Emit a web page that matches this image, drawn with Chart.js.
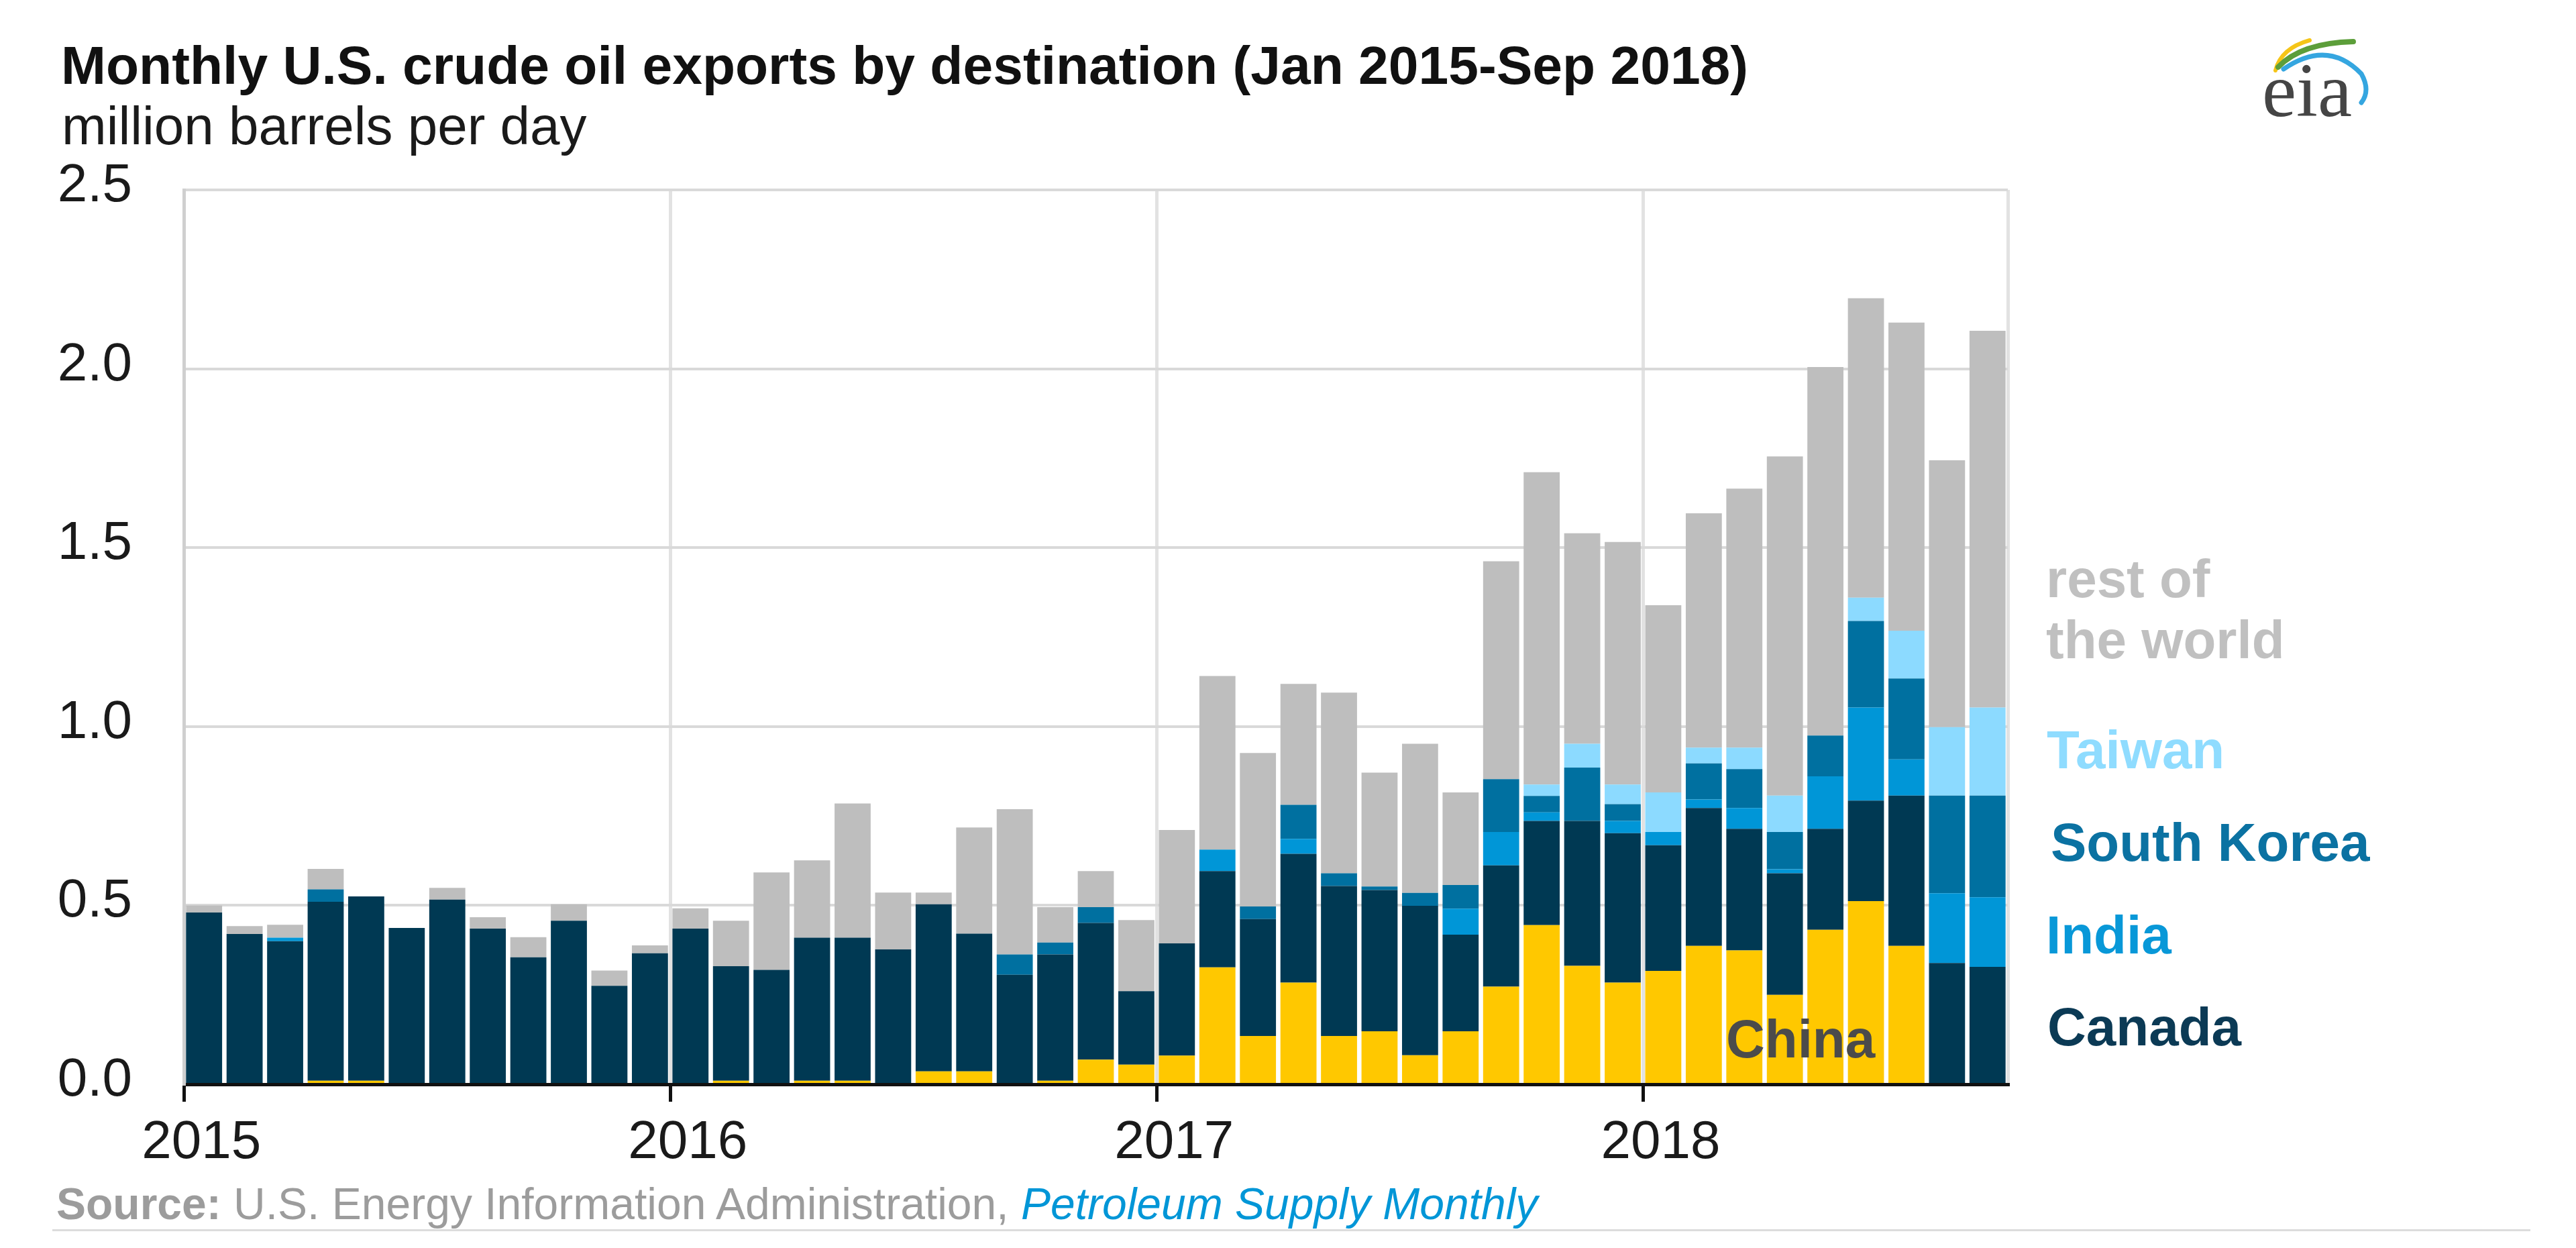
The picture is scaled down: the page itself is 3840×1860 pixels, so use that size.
<!DOCTYPE html>
<html>
<head>
<meta charset="utf-8">
<script src="https://cdn.jsdelivr.net/npm/chart.js@4.4.0/dist/chart.umd.min.js"></script>
<style>
  html, body { margin: 0; padding: 0; background: #fff; }
  #wrap { position: relative; width: 3840px; height: 1860px; overflow: hidden; font-family: "Liberation Sans", Arial, sans-serif; }
  #chart { position: absolute; left: 0; top: 0; }
  .txt { position: absolute; white-space: nowrap; line-height: 1; }
  .title { font-size: 80.4px; font-weight: bold; color: #111; }
  .sub { font-size: 80px; color: #1a1a1a; }
  .lab { font-size: 80px; font-weight: bold; }
  .src { font-size: 66px; color: #9c9c9c; }
  .rule { position: absolute; left: 78px; top: 1832px; width: 3694px; height: 3px; background: #dcdcdc; }
</style>
</head>
<body>
<div id="wrap">
  <canvas id="chart" width="3840" height="1860"></canvas>

  <div class="txt title" style="left:91px; top:57px;">Monthly U.S. crude oil exports by destination (Jan 2015-Sep 2018)</div>
  <div class="txt sub" style="left:92px; top:148px;">million barrels per day</div>

  <div class="txt lab" style="left:3050px; top:823px; color:#c0c0c0;">rest of</div>
  <div class="txt lab" style="left:3050px; top:914px; color:#c0c0c0;">the world</div>
  <div class="txt lab" style="left:3051px; top:1078px; color:#8fdcff;">Taiwan</div>
  <div class="txt lab" style="left:3057px; top:1216px; color:#0b72a2;">South Korea</div>
  <div class="txt lab" style="left:3050px; top:1354px; color:#0898d8;">India</div>
  <div class="txt lab" style="left:3052px; top:1491px; color:#0b3a55;">Canada</div>
  <div class="txt lab" style="left:2573px; top:1509px; color:#4b4b4b;">China</div>

  <div class="txt src" style="left:84px; top:1761px;"><b>Source:</b> U.S. Energy Information Administration, <i style="color:#0096d7;">Petroleum Supply Monthly</i></div>
  <div class="rule"></div>

  <svg style="position:absolute; left:3360px; top:40px;" width="200" height="160">
    <path d="M32,65 Q40,32 83,20" stroke="#f5c518" stroke-width="6" fill="none" stroke-linecap="round"/>
    <path d="M36,60 Q70,24 148,22" stroke="#5c9e3a" stroke-width="8" fill="none" stroke-linecap="round"/>
    <path d="M44,63 Q110,18 160,70 Q174,95 160,113" stroke="#35a6e0" stroke-width="7" fill="none" stroke-linecap="round"/>
    <text x="12" y="133" font-family="Liberation Serif, Times New Roman, serif" font-size="115" fill="#454545">eia</text>
  </svg>
</div>

<script>
const months = [
  'Jan 2015', 'Feb 2015', 'Mar 2015', 'Apr 2015', 'May 2015', 'Jun 2015', 'Jul 2015', 'Aug 2015', 'Sep 2015', 'Oct 2015', 'Nov 2015', 'Dec 2015',
  'Jan 2016', 'Feb 2016', 'Mar 2016', 'Apr 2016', 'May 2016', 'Jun 2016', 'Jul 2016', 'Aug 2016', 'Sep 2016', 'Oct 2016', 'Nov 2016', 'Dec 2016',
  'Jan 2017', 'Feb 2017', 'Mar 2017', 'Apr 2017', 'May 2017', 'Jun 2017', 'Jul 2017', 'Aug 2017', 'Sep 2017', 'Oct 2017', 'Nov 2017', 'Dec 2017',
  'Jan 2018', 'Feb 2018', 'Mar 2018', 'Apr 2018', 'May 2018', 'Jun 2018', 'Jul 2018', 'Aug 2018', 'Sep 2018'
];
const yearTicks = ['2015', '2016', '2017', '2018'];

const china = [
  0, 0, 0, 0.01, 0.01, 0, 0, 0, 0, 0, 0, 0,
  0, 0.01, 0, 0.01, 0.01, 0, 0.036, 0.036, 0, 0.01, 0.069, 0.055,
  0.08, 0.327, 0.135, 0.284, 0.135, 0.148, 0.081, 0.148, 0.273, 0.445, 0.331, 0.284,
  0.317, 0.387, 0.374, 0.25, 0.432, 0.512, 0.387, 0, 0
];
const canada = [
  0.48, 0.42, 0.40, 0.50, 0.515, 0.437, 0.516, 0.435, 0.355, 0.457, 0.275, 0.366,
  0.435, 0.32, 0.32, 0.40, 0.40, 0.377, 0.467, 0.385, 0.306, 0.353, 0.382, 0.205,
  0.314, 0.269, 0.327, 0.36, 0.419, 0.395, 0.418, 0.27, 0.339, 0.291, 0.405, 0.418,
  0.351, 0.385, 0.34, 0.34, 0.282, 0.281, 0.42, 0.339, 0.328
];
const india = [
  0, 0, 0.01, 0, 0, 0, 0, 0, 0, 0, 0, 0,
  0, 0, 0, 0, 0, 0, 0, 0, 0, 0, 0, 0,
  0, 0.06, 0, 0.042, 0, 0, 0, 0.073, 0.093, 0.024, 0, 0.034,
  0.037, 0.024, 0.058, 0.011, 0.147, 0.26, 0.101, 0.195, 0.195
];
const southKorea = [
  0, 0, 0, 0.035, 0, 0, 0, 0, 0, 0, 0, 0,
  0, 0, 0, 0, 0, 0, 0, 0, 0.057, 0.033, 0.044, 0,
  0, 0, 0.035, 0.095, 0.036, 0.01, 0.036, 0.066, 0.148, 0.046, 0.149, 0.047,
  0, 0.101, 0.109, 0.104, 0.114, 0.242, 0.226, 0.273, 0.284
];
const taiwan = [
  0, 0, 0, 0, 0, 0, 0, 0, 0, 0, 0, 0,
  0, 0, 0, 0, 0, 0, 0, 0, 0, 0, 0, 0,
  0, 0, 0, 0, 0, 0, 0, 0, 0, 0.032, 0.067, 0.055,
  0.111, 0.044, 0.06, 0.102, 0, 0.065, 0.134, 0.191, 0.246
];
const restOfWorld = [
  0.02, 0.022, 0.036, 0.057, 0, 0, 0.033, 0.032, 0.056, 0.046, 0.043, 0.022,
  0.057, 0.127, 0.272, 0.216, 0.375, 0.159, 0.033, 0.297, 0.406, 0.099, 0.101, 0.199,
  0.317, 0.485, 0.429, 0.338, 0.505, 0.318, 0.417, 0.259, 0.609, 0.873, 0.588, 0.678,
  0.523, 0.655, 0.724, 0.948, 1.03, 0.837, 0.861, 0.746, 1.053
];

const FONT = '"Liberation Sans", Arial, sans-serif';
const clear = 'rgba(0,0,0,0)';

function series(label, data, color) {
  return {
    label: label,
    data: data,
    backgroundColor: color,
    borderWidth: 0,
    categoryPercentage: 1,
    barPercentage: 0.89
  };
}

new Chart(document.getElementById('chart'), {
  type: 'bar',
  data: {
    labels: months,
    datasets: [
      series('China', china, '#ffc800'),
      series('Canada', canada, '#003953'),
      series('India', india, '#0096d7'),
      series('South Korea', southKorea, '#0070a0'),
      series('Taiwan', taiwan, '#8cdaff'),
      series('rest of the world', restOfWorld, '#bebebe')
    ]
  },
  options: {
    responsive: false,
    animation: false,
    layout: { padding: { top: 283, right: 847, bottom: 0, left: 0 } },
    plugins: {
      legend: { display: false },
      tooltip: { enabled: false }
    },
    scales: {
      x: {
        stacked: true,
        offset: true,
        grid: {
          offset: true,
          lineWidth: 5,
          color: (c) => (c.index === undefined || c.index % 12 === 0) ? '#e2e2e2' : clear,
          tickLength: 26,
          tickWidth: 5,
          tickColor: (c) => (c.index !== undefined && c.index % 12 === 0) ? '#111' : clear
        },
        border: { color: '#111', width: 5 },
        ticks: {
          autoSkip: false,
          maxRotation: 0,
          minRotation: 0,
          padding: 14,
          labelOffset: -4,
          color: '#1a1a1a',
          font: { family: FONT, size: 80 },
          callback: (v, i) => i % 12 === 0 ? yearTicks[i / 12] : ''
        },
        afterFit: (s) => { s.height = 244; }
      },
      y: {
        stacked: true,
        min: 0,
        max: 2.5,
        grid: { color: '#d9d9d9', lineWidth: 4, drawTicks: false },
        border: { color: '#cfcfcf', width: 5 },
        ticks: {
          stepSize: 0.5,
          padding: 77,
          labelOffset: -5,
          color: '#1a1a1a',
          font: { family: FONT, size: 80 },
          callback: (v) => v.toFixed(1)
        },
        afterFit: (s) => { s.width = 274; }
      }
    }
  }
});
</script>
</body>
</html>
